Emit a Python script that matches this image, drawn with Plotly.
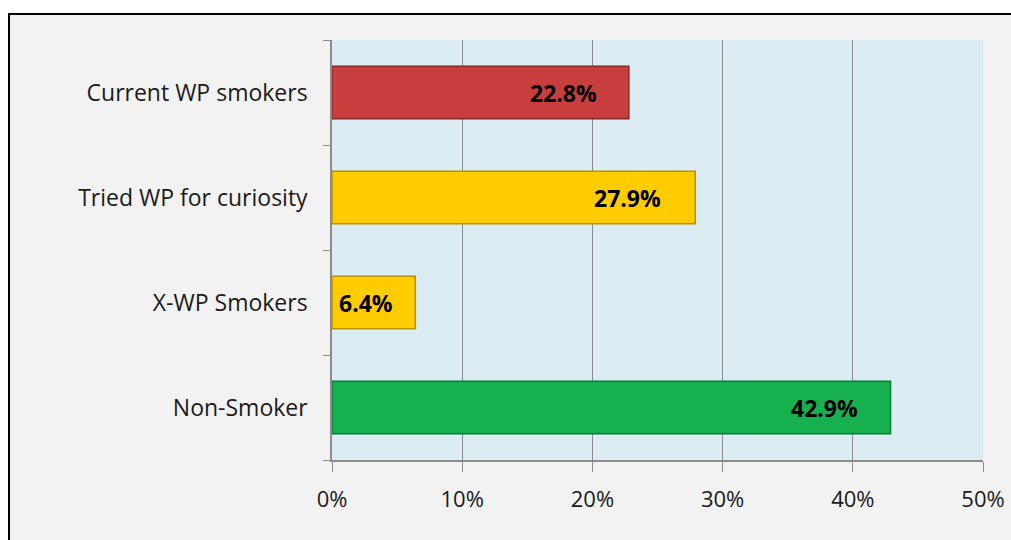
import plotly.graph_objects as go

categories = ["Non-Smoker", "X-WP Smokers", "Tried WP for curiosity", "Current WP smokers"]
values = [42.9, 6.4, 27.9, 22.8]
labels = ["42.9%", "6.4%", "27.9%", "22.8%"]
colors = ["#16b04f", "#ffcc00", "#ffcc00", "#c83e3e"]
edge_colors = ["#0b7a36", "#b89200", "#b89200", "#8c2727"]
label_shift = [-31, -20, -32, -30]
tick_vals = [0, 10, 20, 30, 40, 50]
tick_text = ["0%", "10%", "20%", "30%", "40%", "50%"]

W, H = 1011, 540
L, R, T, B = 332, 983, 40, 460
pw, ph = R - L, B - T


def px_x(p):
    return (p - L) / pw


def px_y(p):
    return (B - p) / ph


fig = go.Figure()
fig.add_trace(go.Bar(
    y=categories, x=values, orientation="h",
    marker=dict(color=colors, line=dict(color=edge_colors, width=1.5)),
    width=0.5, hoverinfo="skip",
))
for c, v, t, s in zip(categories, values, labels, label_shift):
    fig.add_annotation(x=v, y=c, text="<b>" + t + "</b>", showarrow=False,
                       xanchor="right", xshift=s,
                       font=dict(family="Open Sans", size=23, color="#000"))

# white surround outside the outer frame
fig.add_shape(type="rect", xref="paper", yref="paper", layer="above",
              x0=px_x(-5), x1=px_x(W + 5), y0=px_y(13), y1=px_y(-5),
              fillcolor="#ffffff", line=dict(width=0))
fig.add_shape(type="rect", xref="paper", yref="paper", layer="above",
              x0=px_x(-5), x1=px_x(8), y0=px_y(H + 5), y1=px_y(-5),
              fillcolor="#ffffff", line=dict(width=0))
# outer frame
fig.add_shape(type="rect", xref="paper", yref="paper", layer="above",
              x0=px_x(9), x1=px_x(W + 20), y0=px_y(H + 20), y1=px_y(14),
              fillcolor="rgba(0,0,0,0)", line=dict(color="#000", width=2))

fig.update_layout(
    width=W, height=H,
    margin=dict(l=L, r=W - R, t=T, b=H - B, pad=0),
    paper_bgcolor="#f2f2f2", plot_bgcolor="#dbecf2",
    showlegend=False,
    font=dict(family="Open Sans", size=22, color="#1a1a1a"),
    xaxis=dict(range=[0, 50], tickvals=tick_vals, ticktext=tick_text,
               showgrid=True, gridcolor="#8c8c8c", gridwidth=1, automargin=False,
               zeroline=False, showline=True, linecolor="#8c8c8c", linewidth=1.5,
               ticks="outside", ticklen=10, tickcolor="#8c8c8c",
               mirror=False, tickfont=dict(size=22, color="#1a1a1a"), ticklabelstandoff=9),
    yaxis=dict(categoryorder="array", categoryarray=categories, automargin=False,
               showline=True, linecolor="#8c8c8c", linewidth=1.5,
               ticks="outside", ticklen=7, tickcolor="#8c8c8c", tickson="boundaries",
               showgrid=False, tickfont=dict(size=23, color="#1a1a1a"), ticklabelstandoff=18),
)
fig.write_html("out.html", config={"displayModeBar": False},
               post_script="document.body.style.margin='0px';")
